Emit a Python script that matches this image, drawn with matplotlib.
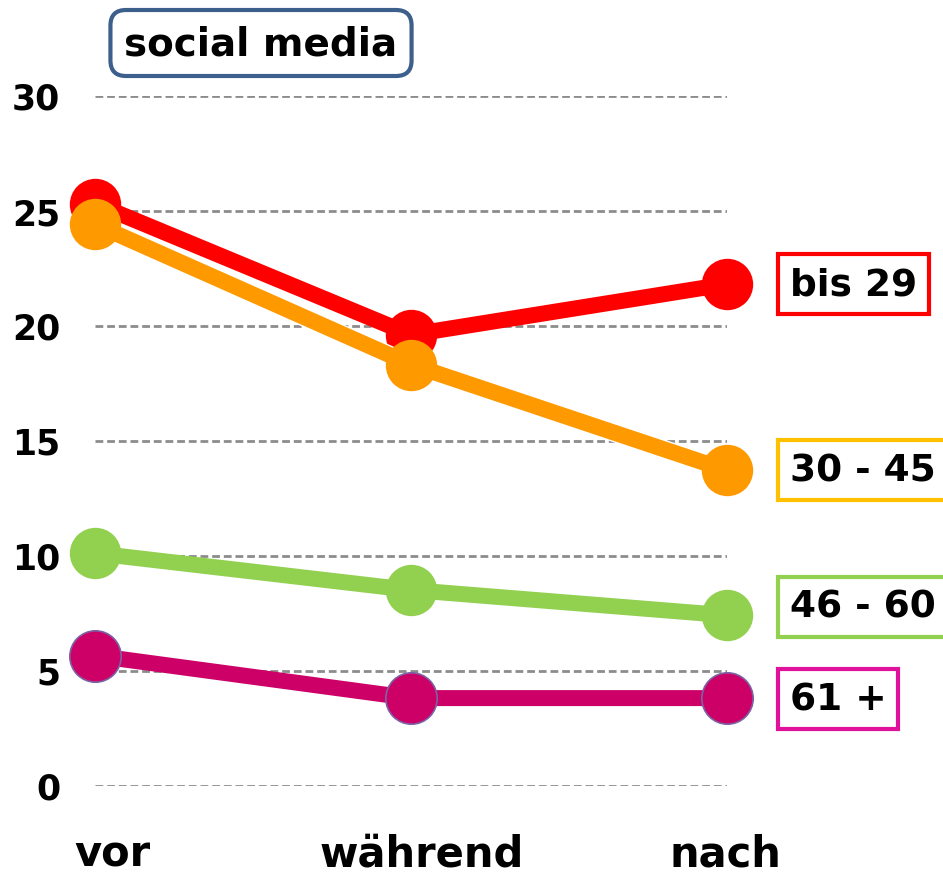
import matplotlib.pyplot as plt
import matplotlib.patheffects as pe
from matplotlib.transforms import ScaledTranslation

phases = ['vor', 'während', 'nach']
groups = ['bis 29', '30 - 45', '46 - 60', '61 +']
bis29 = [25.3, 19.6, 21.8]
g30_45 = [24.4, 18.3, 13.7]
g46_60 = [10.1, 8.5, 7.4]
g61 = [5.65, 3.8, 3.8]
yticks = [0, 5, 10, 15, 20, 25, 30]

plt.rcParams['font.family'] = 'DejaVu Sans'
plt.rcParams['font.weight'] = 'bold'

fig = plt.figure(figsize=(9.43, 8.78), dpi=100)
ax = fig.add_axes([95 / 943, 1 - 786.5 / 878, 632 / 943, 690 / 878])
ax.set_xlim(0, 2)
ax.set_ylim(0, 30)
x = range(len(phases))

for yv in yticks:
    ax.axhline(yv, color='#8c8c8c', lw=2, ls=(0, (2.8, 1.4)), zorder=1)

# values, line colour, marker edge, edge width, label box colour, label shift
series = [
    (g61, '61 +', '#cc0066', '#7b63a6', 1.2, '#e0119a', -1),
    (g46_60, '46 - 60', '#92d050', '#92d050', 0, '#92d050', 6),
    (bis29, 'bis 29', '#ff0000', '#ff0000', 0, '#ff0000', 0),
    (g30_45, '30 - 45', '#ff9900', '#ff9900', 0, '#ffc000', 0),
]

for i, (vals, name, col, mec, mew, boxcol, dy) in enumerate(series):
    line, = ax.plot(x, vals, color=col, lw=11.5, clip_on=False, zorder=3 + 2 * i,
                    solid_capstyle='butt')
    if name == '30 - 45':
        line.set_path_effects([pe.Stroke(linewidth=13.5, foreground='white'), pe.Normal()])
    ax.plot(x, vals, ls='none', marker='o', ms=37, mfc=col, mec=mec, mew=mew,
            clip_on=False, zorder=4 + 2 * i)
    ax.annotate(name, xy=(2, vals[-1]), xytext=(45, dy),
                textcoords='offset points', ha='left', va='center',
                fontsize=27, fontweight='bold', annotation_clip=False,
                bbox=dict(boxstyle='square,pad=0.32', fc='white', ec=boxcol, lw=3))

ax.text(261 / 943, 1 - 44 / 878, 'social media', transform=fig.transFigure,
        ha='center', va='center', fontsize=28, fontweight='bold',
        bbox=dict(boxstyle='round,pad=0.36,rounding_size=0.4', fc='white',
                  ec='#3c5f8c', lw=3))

ax.set_yticks(yticks)
ax.set_yticklabels([str(v) for v in yticks], fontsize=25, fontweight='bold')
ax.set_xticks(list(x))
ax.set_xticklabels(phases, fontsize=30, fontweight='bold')
ax.tick_params(axis='y', length=0, pad=25)
ax.tick_params(axis='x', length=0, pad=34)
for lab, dx in zip(ax.get_xticklabels(), [17, 11, -2]):
    lab.set_transform(lab.get_transform() + ScaledTranslation(dx / 100, 0, fig.dpi_scale_trans))
for s in ax.spines.values():
    s.set_visible(False)

fig.savefig('out.png', dpi=100)
